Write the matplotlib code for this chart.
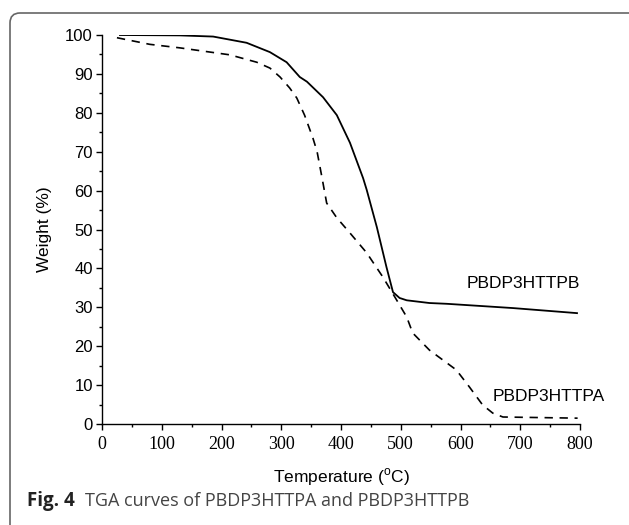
import matplotlib
matplotlib.use('Agg')
import matplotlib.pyplot as plt
from matplotlib.patches import FancyBboxPatch
from matplotlib.transforms import IdentityTransform
from matplotlib.ticker import MultipleLocator

# PBDP3HTTPB (solid)
temp_b = [30, 130, 186, 242, 281, 309, 331, 343, 370, 393, 415, 437, 443, 460, 476, 487, 498, 510,
          548, 577, 688, 795]
weight_b = [100, 99.9, 99.6, 98, 95.6, 93, 89.2, 88, 84, 79.4, 72.3, 63.2, 60.2, 50.6, 40.4, 33.9, 32.4,
            31.8, 31.1, 30.9, 29.8, 28.5]

# PBDP3HTTPA (dashed)
temp_a = [25, 80, 130, 214, 259, 281, 298, 314, 326, 339, 353, 360, 368, 376, 393, 415, 443, 470,
          493, 510, 520, 548, 593, 615, 637, 654, 671, 796]
weight_a = [99.3, 97.6, 96.7, 94.9, 93, 91.5, 89.2, 86.4, 83.8, 79.4, 73.5, 70, 63.5, 56.8, 53, 49.1,
            44, 37.8, 31.9, 27.5, 23.4, 19, 13.9, 9.5, 4.9, 2.8, 1.8, 1.5]

W, H = 629, 525
fig = plt.figure(figsize=(W / 100, H / 100), dpi=100)
ax = fig.add_axes([102 / W, (H - 424) / H, 478 / W, (424 - 35) / H])

ax.plot(temp_b, weight_b, color='black', lw=1.3, linestyle='-')
ax.plot(temp_a, weight_a, color='black', lw=1.2, linestyle=(0, (5, 4)))

ax.set_xlim(0, 800)
ax.set_ylim(0, 100)
for s in ['top', 'right']:
    ax.spines[s].set_visible(False)
for s in ['left', 'bottom']:
    ax.spines[s].set_linewidth(1.0)

ax.xaxis.set_major_locator(MultipleLocator(100))
ax.xaxis.set_minor_locator(MultipleLocator(50))
ax.yaxis.set_major_locator(MultipleLocator(10))
ax.yaxis.set_minor_locator(MultipleLocator(5))
ax.tick_params(which='major', direction='out', length=4.5, width=1.0)
ax.tick_params(which='minor', direction='out', length=2.5, width=1.0)
ax.tick_params(axis='y', labelsize=12, pad=2)
ax.tick_params(axis='x', labelsize=13, pad=4)
for lab in ax.get_yticklabels():
    lab.set_family('Liberation Sans')
for lab in ax.get_xticklabels():
    lab.set_family('Liberation Serif')

ax.text(610, 36.2, 'PBDP3HTTPB', fontsize=12.5, family='Liberation Sans', va='center', ha='left')
ax.text(654, 7, 'PBDP3HTTPA', fontsize=12.5, family='Liberation Sans', va='center', ha='left')

plt.rcParams['mathtext.fontset'] = 'custom'
plt.rcParams['mathtext.rm'] = 'Liberation Sans'
fig.text(341 / W, 1 - 477 / H, r'Temperature ($^\mathregular{o}$C)', fontsize=12.5,
         family='Liberation Sans', ha='center', va='center')
fig.text(45 / W, 1 - 229 / H, 'Weight (%)', fontsize=12.5, family='Liberation Sans',
         rotation=90, ha='center', va='center')

# caption
t1 = fig.text(27 / W, 1 - 501 / H, 'Fig. 4', fontsize=13.5, family='Open Sans',
              fontweight='bold', color='#222222', ha='left', va='center')
fig.canvas.draw()
bb = t1.get_window_extent()
fig.text((bb.x1 + 10) / W, 1 - 501 / H, 'TGA curves of PBDP3HTTPA and PBDP3HTTPB', fontsize=13,
         family='Open Sans', color='#444444', ha='left', va='center')

# rounded frame (top-left corner)
frame = FancyBboxPatch((10, -30), 700, H - 13 + 30, boxstyle='round,pad=0,rounding_size=10',
                       transform=IdentityTransform(), facecolor='none', edgecolor='#666666', lw=1.2)
fig.add_artist(frame)

fig.savefig('out.png', dpi=100)
